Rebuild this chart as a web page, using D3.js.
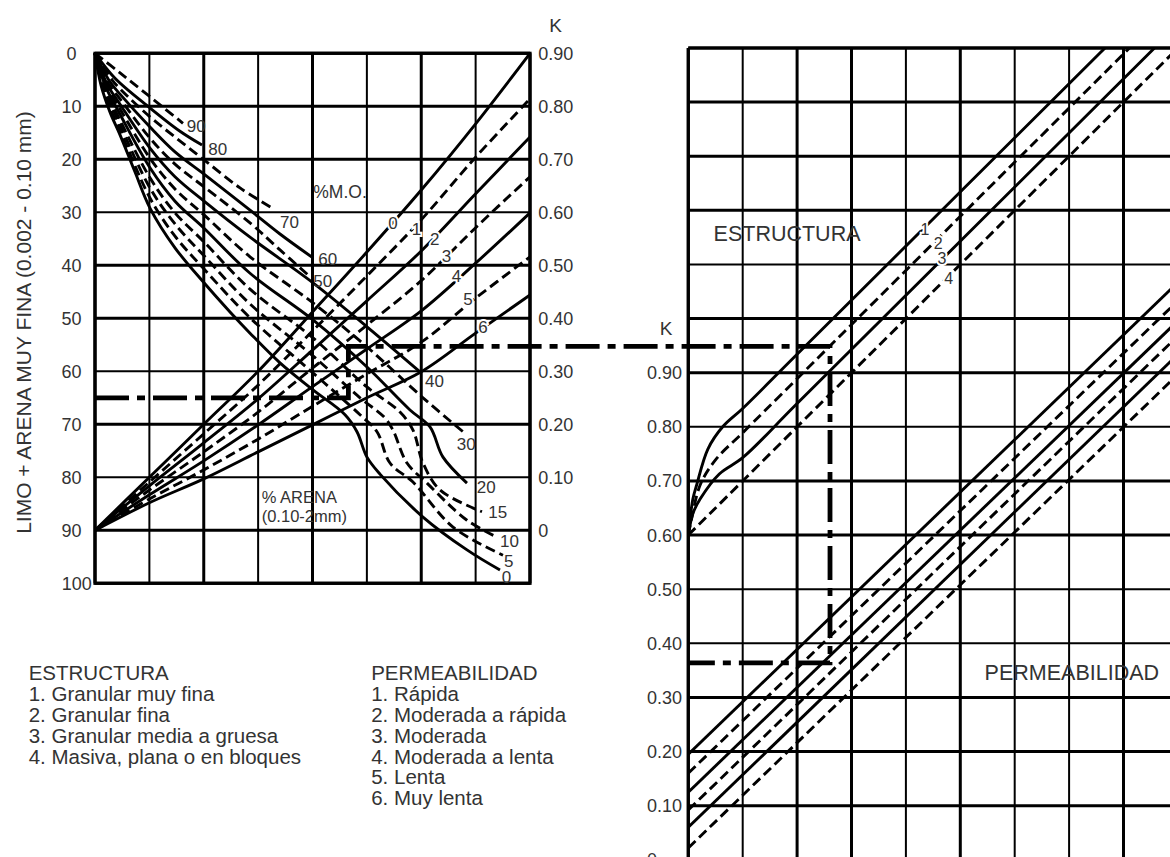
<!DOCTYPE html>
<html><head><meta charset="utf-8">
<script src="https://cdn.jsdelivr.net/npm/d3@7"></script>
<style>
body{margin:0;background:#fff;}
svg{display:block;}
text{font-family:"Liberation Sans",Arial,Helvetica,sans-serif;fill:#333;}
</style></head><body>
<svg id="c" width="1170" height="857"></svg>
<script>
// ---------------- DATA ----------------
const siltTicks = [0,10,20,30,40,50,60,70,80,90,100];
const kTicks = [0,0.1,0.2,0.3,0.4,0.5,0.6,0.7,0.8,0.9];
const kTickLabels = ["0","0.10","0.20","0.30","0.40","0.50","0.60","0.70","0.80","0.90"];
const leftCols = [0,1,2,3,4,5,6,7,8];
const rightCols = [0,1,2,3,4,5,6,7,8,9];
const rightRows = [0,0.1,0.2,0.3,0.4,0.5,0.6,0.7,0.8,0.9,1.0,1.1,1.2,1.3,1.4,1.5];

// % sand curves : [column, % silt + very fine sand]
const sand0  = [[0,0],[0.11,6.0],[0.276,11.1],[0.46,15.4],[0.736,22.4],[1.011,29.2],[1.471,36.7],[2.005,43.3],[2.483,48.8],[2.851,52.8],[3.402,58.4],[4.009,63.5],[4.598,68.2],[4.818,71.4],[5.002,76.2],[5.241,79.4],[6.032,87.5],[6.841,93.7],[7.448,97.5]];
const sand5  = [[0,0],[0.129,6.0],[0.276,10.3],[0.46,14.5],[1.011,27.3],[1.471,34.5],[2.005,40.7],[2.851,49.9],[4.009,60.3],[4.874,68.2],[5.186,71.4],[5.425,77.3],[5.848,80.9],[6.584,89.4],[7.503,94.7]];
const sand10 = [[0,0],[0.147,6.0],[0.46,13.5],[1.011,25.4],[1.471,32.2],[2.005,38.2],[2.851,47.3],[4.009,57.1],[4.874,65.0],[5.333,68.8],[5.48,71.1],[5.738,77.3],[6.106,81.1],[6.841,88.1],[7.393,91.3]];
const sand15 = [[0,0],[0.166,6.0],[0.46,12.6],[1.011,23.5],[1.471,30.1],[2.005,35.6],[2.851,44.5],[4.009,53.7],[5.002,62.96],[5.609,67.7],[5.848,71.1],[6.032,77.3],[6.345,82.4],[7.117,86.5]];
const sand20 = [[0,0],[0.184,6.0],[0.46,11.5],[1.011,21.6],[1.471,27.9],[2.005,33.0],[2.851,41.5],[4.009,50.3],[5.002,59.2],[5.793,67.3],[6.161,70.5],[6.4,76.2],[6.841,81.1]];
const sand30 = [[0,0],[0.202,6.0],[0.46,10.5],[1.011,19.8],[1.471,25.6],[2.005,30.5],[2.851,38.4],[4.009,47.1],[5.002,55.4],[6.032,65.0],[6.768,71.4]];
const sand40 = [[0,0],[0.221,5.8],[0.46,9.6],[1.011,17.9],[1.471,23.3],[2.005,27.9],[2.851,34.7],[4.009,43.3],[5.002,51.6],[5.977,60.1]];
const sand50 = [[0,0],[0.239,5.6],[0.46,8.6],[1.011,16.0],[1.471,20.9],[2.005,25.2],[2.851,32.0],[3.402,37.1],[3.917,41.8]];
const sand60 = [[0,0],[0.276,5.4],[0.46,7.7],[1.011,13.9],[1.471,18.6],[2.005,22.8],[2.851,29.6],[3.402,34.1],[4.009,38.6]];
const sand70 = [[0,0],[0.313,5.0],[0.46,6.7],[1.011,12.0],[1.471,15.8],[2.005,20.1],[2.667,25.4],[3.255,29.2]];
const sand80 = [[0,0],[0.368,4.7],[1.011,10.3],[1.563,14.7],[1.968,17.3]];
const sand90 = [[0,0],[0.46,3.7],[1.011,8.2],[1.618,13.2]];

// % organic matter lines : silt value at each column 0..8
const om0 = [90,80,70,60,48.8,37.5,25.8,13.3,0];
const om1 = [90,80.9,71.8,62.6,52.4,42.0,31.4,19.6,8.6];
const om2 = [90,81.6,73.5,65.2,56.0,46.7,37.3,26.5,15.8];
const om3 = [90,82.4,75.2,67.7,59.4,51.3,42.9,32.9,23.3];
const om4 = [90,83.3,76.9,70.1,62.9,55.8,48.6,39.6,30.1];
const om5 = [90,84.1,78.6,72.8,66.6,60.5,54.5,46.2,38.4];
const om6 = [90,84.8,80.3,75.2,70.1,65.0,60.1,52.8,45.6];

// structure curves (right panel): [column, K]
const est1 = [[0,0.6],[0.02,0.62],[0.085,0.667],[0.155,0.693],[0.36,0.759],[0.64,0.801],[1.0,0.834],[2,0.934],[7.66,1.5]];
const est2 = [[0,0.6],[0.05,0.625],[0.22,0.693],[0.5,0.739],[1.0,0.789],[2,0.889],[8.11,1.5]];
const est3 = [[0,0.6],[0.085,0.64],[0.22,0.667],[0.57,0.713],[1.0,0.743],[2,0.843],[8.57,1.5]];
const est4 = [[0,0.6],[2,0.8],[9,1.5]];

// permeability lines (right panel): [column, K]
const perm1 = [[0,0.195],[9,1.067]];
const perm2 = [[0,0.160],[9,1.033]];
const perm3 = [[0,0.125],[9,0.996]];
const perm4 = [[0,0.092],[9,0.968]];
const perm5 = [[0,0.060],[9,0.934]];
const perm6 = [[0,0.022],[9,0.897]];

// worked example (dash-dot path)
const exSilt = 65, exSiltTurn = 55.3, exCol = 4.66;
const exStructCol = 2.605, exK = 0.364;

const legendEst = ["ESTRUCTURA","1. Granular muy fina","2. Granular fina","3. Granular media a gruesa","4. Masiva, plana o en bloques"];
const legendPerm = ["PERMEABILIDAD","1. Rápida","2. Moderada a rápida","3. Moderada","4. Moderada a lenta","5. Lenta","6. Muy lenta"];

// ---------------- LAYOUT ----------------
const svg = d3.select("#c");
const xL = d3.scaleLinear().domain([0,8]).range([95,530]);
const yL = d3.scaleLinear().domain([0,100]).range([53.3,583.3]);
const kL = d3.scaleLinear().domain([0,0.9]).range([yL(90), yL(0)]);
const xR = d3.scaleLinear().domain([0,9]).range([688.3,1177.9]);
const yR = d3.scaleLinear().domain([0,1.5]).range([859.8,48]);

const INK = "#000";
const THICK = 3, THIN = 2;
const LW = 2.9;

svg.append("defs").append("clipPath").attr("id","rclip")
  .append("rect").attr("x",xR(0)).attr("y",yR(1.5)).attr("width",1170-xR(0)).attr("height",900);

// ---- left grid ----
const gL = svg.append("g");
gL.selectAll("line.v").data(leftCols).join("line")
  .attr("x1",d=>xL(d)).attr("x2",d=>xL(d)).attr("y1",yL(0)).attr("y2",yL(100))
  .attr("stroke",INK).attr("stroke-width",d=>(d%2===0)?THICK:THIN);
gL.selectAll("line.h").data(siltTicks).join("line")
  .attr("x1",xL(0)).attr("x2",xL(8)).attr("y1",d=>yL(d)).attr("y2",d=>yL(d))
  .attr("stroke",INK).attr("stroke-width",d=>([30,60,80].includes(d))?THIN:THICK);
gL.append("rect").attr("x",xL(0)).attr("y",yL(0)).attr("width",xL(8)-xL(0)).attr("height",yL(100)-yL(0))
  .attr("fill","none").attr("stroke",INK).attr("stroke-width",3.2);

svg.selectAll("text.lt").data(siltTicks).join("text")
  .attr("x",d=>d===100?76.7:71.5).attr("y",d=>yL(d)).attr("dy","0.36em")
  .attr("text-anchor","middle").attr("font-size",18).text(d=>d);
svg.selectAll("text.kl").data(kTicks).join("text")
  .attr("x",538.3).attr("y",d=>kL(d)).attr("dy","0.36em")
  .attr("font-size",18).text((d,i)=>kTickLabels[i]);
svg.append("text").attr("x",555.5).attr("y",32).attr("text-anchor","middle").attr("font-size",19).text("K");
svg.append("text").attr("transform","translate(23,322.5) rotate(-90)").attr("text-anchor","middle")
  .attr("dy","0.36em").attr("font-size",21).text("LIMO + ARENA MUY FINA (0.002 - 0.10 mm)");

// ---- curves left ----
const lineL = d3.line().x(d=>xL(d[0])).y(d=>yL(d[1])).curve(d3.curveCatmullRom.alpha(0.5));
const sandSeries = [
  {lab:"0",pts:sand0,dash:false},{lab:"5",pts:sand5,dash:true},{lab:"10",pts:sand10,dash:true},
  {lab:"15",pts:sand15,dash:true},{lab:"20",pts:sand20,dash:false},{lab:"30",pts:sand30,dash:true},
  {lab:"40",pts:sand40,dash:false},{lab:"50",pts:sand50,dash:true},{lab:"60",pts:sand60,dash:false},
  {lab:"70",pts:sand70,dash:true},{lab:"80",pts:sand80,dash:false},{lab:"90",pts:sand90,dash:true}];
const omSeries = [om0,om1,om2,om3,om4,om5,om6].map((v,i)=>({lab:String(i),pts:leftCols.map((c,j)=>[c,v[j]]),dash:i%2===1}));

const gC = svg.append("g").attr("fill","none").attr("stroke",INK).attr("stroke-width",LW);
gC.selectAll("path.s").data(sandSeries).join("path").attr("d",d=>lineL(d.pts))
  .attr("stroke-dasharray",d=>d.dash?"10,5":null);
gC.selectAll("path.o").data(omSeries).join("path").attr("d",d=>lineL(d.pts))
  .attr("stroke-dasharray",d=>d.dash?"10,5":null);

const sandLabelPos = [["90",1.686,14.9],["80",2.084,19.19],["70",3.402,33.02],["60",4.107,39.94],["50",4.015,44.04],
  ["40",6.069,63.02],["30",6.652,74.85],["20",7.02,83.02],["15",7.233,87.74],["10",7.448,93.09],["5",7.522,96.87],["0",7.479,99.89]];
const omLabelPos = [["0",5.394,33.06],["1",5.824,34.28],["2",6.161,36.17],["3",6.376,39.32],["4",6.56,43.1],["5",6.774,47.5],["6",7.049,52.83]];
svg.selectAll("text.sl").data(sandLabelPos).join("text")
  .attr("x",d=>xL(d[1])).attr("y",d=>yL(d[2])).attr("font-size",17).text(d=>d[0]);
svg.selectAll("text.ol").data(omLabelPos).join("text")
  .attr("x",d=>xL(d[1])).attr("y",d=>yL(d[2])).attr("font-size",17)
  .attr("stroke","#fff").attr("stroke-width",4).attr("paint-order","stroke").text(d=>d[0]);
svg.append("text").attr("x",xL(4.015)).attr("y",yL(27.36)).attr("font-size",17.5).text("%M.O.");
svg.append("text").attr("x",xL(3.066)).attr("y",yL(84.9)).attr("font-size",16.5).text("% ARENA");
svg.append("text").attr("x",xL(3.066)).attr("y",yL(88.4)).attr("font-size",16.5).text("(0.10-2mm)");

// ---- right grid ----
const gR = svg.append("g");
gR.selectAll("line.v").data(rightCols).join("line")
  .attr("x1",d=>xR(d)).attr("x2",d=>xR(d)).attr("y1",yR(1.5)).attr("y2",900)
  .attr("stroke",INK).attr("stroke-width",d=>([1,4,6,7].includes(d))?THIN:THICK);
gR.selectAll("line.h").data(rightRows).join("line")
  .attr("x1",xR(0)).attr("x2",1170).attr("y1",d=>yR(d)).attr("y2",d=>yR(d))
  .attr("stroke",INK).attr("stroke-width",d=>([0.4,0.5,0.8,1.1].some(v=>Math.abs(v-d)<1e-6))?THIN:THICK);
gR.append("line").attr("x1",xR(0)).attr("x2",1170).attr("y1",yR(1.5)).attr("y2",yR(1.5)).attr("stroke",INK).attr("stroke-width",3.2);
gR.append("line").attr("x1",xR(0)).attr("x2",xR(0)).attr("y1",yR(1.5)).attr("y2",900).attr("stroke",INK).attr("stroke-width",3.2);

svg.selectAll("text.kr").data(kTicks).join("text")
  .attr("x",647).attr("y",d=>yR(d)).attr("dy","0.36em").attr("font-size",18).text((d,i)=>kTickLabels[i]);
svg.append("text").attr("x",666).attr("y",335).attr("text-anchor","middle").attr("font-size",19).text("K");

const lineR = d3.line().x(d=>xR(d[0])).y(d=>yR(d[1])).curve(d3.curveCatmullRom.alpha(0.5));
const estSeries = [{pts:est1,dash:false},{pts:est2,dash:true},{pts:est3,dash:false},{pts:est4,dash:true}];
const permSeries = [perm1,perm2,perm3,perm4,perm5,perm6].map((p,i)=>({pts:p,dash:i%2===1}));
const gRC = svg.append("g").attr("clip-path","url(#rclip)").attr("fill","none").attr("stroke",INK).attr("stroke-width",LW);
gRC.selectAll("path.e").data(estSeries).join("path").attr("d",d=>lineR(d.pts)).attr("stroke-dasharray",d=>d.dash?"10,5":null);
gRC.selectAll("path.p").data(permSeries).join("path").attr("d",d=>lineR(d.pts)).attr("stroke-dasharray",d=>d.dash?"10,5":null);

const estLabelPos = [["1",4.27,1.1543],["2",4.513,1.1279],["3",4.581,1.1007],["4",4.706,1.0637]];
svg.selectAll("text.el").data(estLabelPos).join("text")
  .attr("x",d=>xR(d[1])).attr("y",d=>yR(d[2])).attr("font-size",16)
  .attr("stroke","#fff").attr("stroke-width",4).attr("paint-order","stroke").text(d=>d[0]);
svg.append("text").attr("x",xR(0.465)).attr("y",yR(1.1437)).attr("font-size",21.5).text("ESTRUCTURA");
svg.append("text").attr("x",xR(5.447)).attr("y",yR(0.3322)).attr("font-size",21.5).text("PERMEABILIDAD");

// ---- worked example dash-dot path ----
const exPts = [[xL(0),yL(exSilt)],[xL(exCol),yL(exSilt)],[xL(exCol),yL(exSiltTurn)],
  [xR(exStructCol),yL(exSiltTurn)],[xR(exStructCol),yR(exK)],[xR(0),yR(exK)]];
svg.append("path").attr("d",d3.line()(exPts)).attr("fill","none").attr("stroke",INK)
  .attr("stroke-width",4.8).attr("stroke-dasharray","34,8,8,8");

// ---- legend ----
const legY0 = 673, legDY = 20.8;
svg.selectAll("text.le").data(legendEst).join("text")
  .attr("x",28.7).attr("y",(d,i)=>legY0+i*legDY).attr("dy","0.36em").attr("font-size",20.5).text(d=>d);
svg.selectAll("text.lp").data(legendPerm).join("text")
  .attr("x",371.2).attr("y",(d,i)=>legY0+i*legDY).attr("dy","0.36em").attr("font-size",20.5).text(d=>d);
</script>
</body></html>
